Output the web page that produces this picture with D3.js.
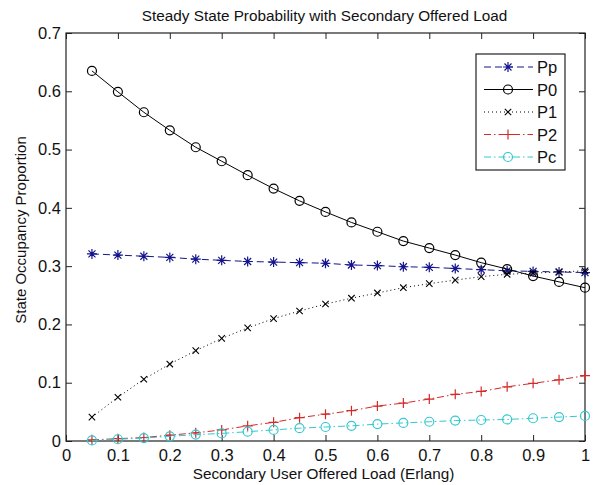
<!DOCTYPE html>
<html>
<head>
<meta charset="utf-8">
<script src="https://cdn.jsdelivr.net/npm/d3@7"></script>
<style>
  body { margin: 0; background: #fff; }
  text { font-family: "Liberation Sans", Arial, sans-serif; fill: #111; }
</style>
</head>
<body>
<script>
const loads = [0.05, 0.10, 0.15, 0.20, 0.25, 0.30, 0.35, 0.40, 0.45, 0.50, 0.55, 0.60, 0.65, 0.70, 0.75, 0.80, 0.85, 0.90, 0.95, 1.00];
const pp = [0.321, 0.319, 0.317, 0.315, 0.312, 0.310, 0.308, 0.307, 0.306, 0.305, 0.302, 0.301, 0.299, 0.298, 0.296, 0.294, 0.292, 0.291, 0.290, 0.289];
const p0 = [0.635, 0.599, 0.564, 0.533, 0.504, 0.480, 0.456, 0.433, 0.412, 0.393, 0.375, 0.359, 0.343, 0.331, 0.319, 0.306, 0.295, 0.283, 0.273, 0.263];
const p1 = [0.041, 0.075, 0.106, 0.132, 0.155, 0.176, 0.194, 0.210, 0.223, 0.235, 0.245, 0.254, 0.263, 0.270, 0.276, 0.282, 0.286, 0.288, 0.290, 0.292];
const p2 = [0.002, 0.004, 0.006, 0.010, 0.014, 0.019, 0.026, 0.032, 0.040, 0.046, 0.052, 0.060, 0.065, 0.072, 0.080, 0.085, 0.093, 0.099, 0.105, 0.112];
const pc = [0.001, 0.003, 0.005, 0.008, 0.011, 0.013, 0.016, 0.019, 0.022, 0.024, 0.026, 0.029, 0.031, 0.033, 0.035, 0.036, 0.037, 0.039, 0.041, 0.043];
const seriesNames = ['Pp', 'P0', 'P1', 'P2', 'Pc'];
const xTicks = [0, 0.1, 0.2, 0.3, 0.4, 0.5, 0.6, 0.7, 0.8, 0.9, 1];
const yTicks = [0, 0.1, 0.2, 0.3, 0.4, 0.5, 0.6, 0.7];

const W = 598, H = 485;
const axL = 66, axR = 585, axT = 33, axB = 441;
const narrow = '"Liberation Sans Narrow", "Liberation Sans", Arial, sans-serif';

const x = d3.scaleLinear().domain([0, 1]).range([axL, axR]);
const y = d3.scaleLinear().domain([0, 0.7]).range([axB, axT]);

const styles = [
  { vals: pp, color: '#14148c', dash: '7,4', marker: 'star' },
  { vals: p0, color: '#000000', dash: null, marker: 'circle' },
  { vals: p1, color: '#000000', dash: '1,3', marker: 'x' },
  { vals: p2, color: '#d42a2a', dash: '7,3,1.5,3', marker: 'plus' },
  { vals: pc, color: '#33c8d0', dash: '7,3,1.5,3', marker: 'circle' }
];

const svg = d3.select('body').append('svg').attr('width', W).attr('height', H);

// title + axis labels
svg.append('text').attr('x', (axL + axR) / 2 - 1).attr('y', 21)
  .attr('text-anchor', 'middle').style('font-size', '15.3px')
  .text('Steady State Probability with Secondary Offered Load');
svg.append('text').attr('x', (axL + axR) / 2 - 2).attr('y', 479)
  .attr('text-anchor', 'middle').style('font-size', '15.3px')
  .text('Secondary User Offered Load (Erlang)');
svg.append('text').attr('transform', 'translate(26,230) rotate(-90)')
  .attr('text-anchor', 'middle').style('font-size', '15px')
  .text('State Occupancy Proportion');

// axes, ticks pointing inward on all sides
function styleAxis(g) {
  g.select('.domain').remove();
  g.selectAll('line').attr('stroke', '#222');
  g.selectAll('text').style('font-size', '16.5px').style('font-family', narrow).attr('fill', '#111');
}
svg.append('g').attr('transform', 'translate(0,' + axB + ')')
  .call(d3.axisBottom(x).tickValues(xTicks).tickFormat(d3.format('')).tickSizeInner(-6).tickSizeOuter(0).tickPadding(8))
  .call(styleAxis);
svg.append('g').attr('transform', 'translate(0,' + axT + ')')
  .call(d3.axisTop(x).tickValues(xTicks).tickFormat('').tickSizeInner(-6).tickSizeOuter(0))
  .call(styleAxis);
svg.append('g').attr('transform', 'translate(' + axL + ',0)')
  .call(d3.axisLeft(y).tickValues(yTicks).tickFormat(d3.format('')).tickSizeInner(-6).tickSizeOuter(0).tickPadding(5))
  .call(styleAxis);
svg.append('g').attr('transform', 'translate(' + axR + ',0)')
  .call(d3.axisRight(y).tickValues(yTicks).tickFormat('').tickSizeInner(-6).tickSizeOuter(0))
  .call(styleAxis);
svg.append('rect').attr('x', axL).attr('y', axT).attr('width', axR - axL).attr('height', axB - axT)
  .attr('fill', 'none').attr('stroke', '#222').attr('stroke-width', 1.2);

function drawMarker(g, type, cx, cy, color) {
  if (type === 'circle') {
    g.append('circle').attr('cx', cx).attr('cy', cy).attr('r', 4.5)
      .attr('fill', 'none').attr('stroke', color).attr('stroke-width', 1.2);
  } else if (type === 'plus') {
    g.append('path').attr('d', `M${cx - 5},${cy}H${cx + 5}M${cx},${cy - 5}V${cy + 5}`)
      .attr('stroke', color).attr('stroke-width', 1.2);
  } else if (type === 'x') {
    g.append('path').attr('d', `M${cx - 3.2},${cy - 3.2}L${cx + 3.2},${cy + 3.2}M${cx - 3.2},${cy + 3.2}L${cx + 3.2},${cy - 3.2}`)
      .attr('stroke', color).attr('stroke-width', 1.1);
  } else if (type === 'star') {
    g.append('path').attr('d', `M${cx - 5},${cy}H${cx + 5}M${cx},${cy - 5}V${cy + 5}M${cx - 3.5},${cy - 3.5}L${cx + 3.5},${cy + 3.5}M${cx - 3.5},${cy + 3.5}L${cx + 3.5},${cy - 3.5}`)
      .attr('stroke', color).attr('stroke-width', 1.2);
  }
}

const line = d3.line().x((d, i) => x(loads[i])).y(d => y(d));
const plot = svg.append('g');
styles.forEach(s => {
  plot.append('path').attr('d', line(s.vals)).attr('fill', 'none')
    .attr('stroke', s.color).attr('stroke-width', 1)
    .attr('stroke-dasharray', s.dash);
  s.vals.forEach((v, i) => drawMarker(plot, s.marker, x(loads[i]), y(v), s.color));
});

// legend
const lg = svg.append('g');
lg.append('rect').attr('x', 476).attr('y', 54).attr('width', 89).attr('height', 116)
  .attr('fill', '#fff').attr('stroke', '#222').attr('stroke-width', 1.2);
seriesNames.forEach((name, i) => {
  const ly = 67 + i * 22.5;
  const s = styles[i];
  lg.append('line').attr('x1', 484).attr('x2', 533).attr('y1', ly).attr('y2', ly)
    .attr('stroke', s.color).attr('stroke-width', 1).attr('stroke-dasharray', s.dash);
  drawMarker(lg, s.marker, 508, ly, s.color);
  lg.append('text').attr('x', 537).attr('y', ly + 6).style('font-size', '16.5px')
    .style('font-family', narrow).text(name);
});
</script>
</body>
</html>
